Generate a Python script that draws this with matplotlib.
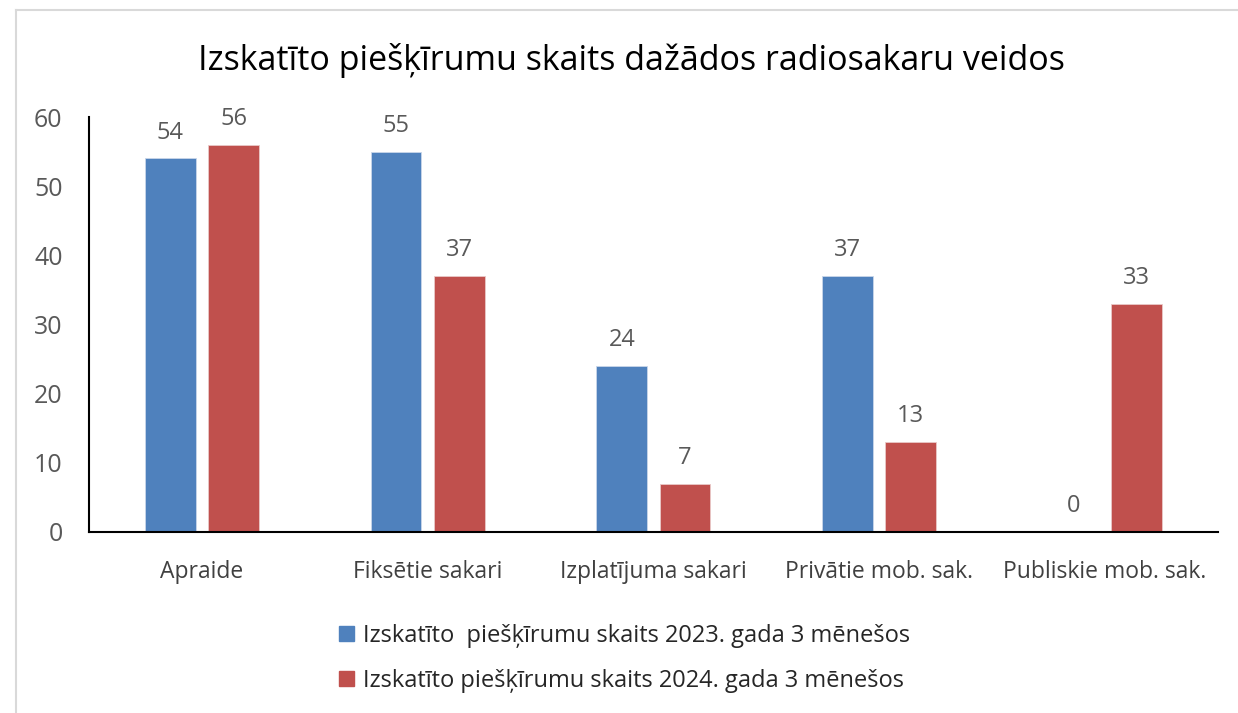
import matplotlib
matplotlib.use("Agg")
import matplotlib.pyplot as plt
import numpy as np
from matplotlib.lines import Line2D
from matplotlib.patches import Patch

categories = ["Apraide", "Fiksētie sakari", "Izplatījuma sakari", "Privātie mob. sak.", "Publiskie mob. sak."]
values_2023 = [54, 55, 24, 37, 0]
values_2024 = [56, 37, 7, 13, 33]
series_names = ["Izskatīto  piešķīrumu skaits 2023. gada 3 mēnešos",
                "Izskatīto piešķīrumu skaits 2024. gada 3 mēnešos"]
title = "Izskatīto piešķīrumu skaits dažādos radiosakaru veidos"

plt.rcParams['font.family'] = ['Open Sans', 'DejaVu Sans']

fig = plt.figure(figsize=(12.38, 7.13), dpi=100)
ax = fig.add_axes([0.0719, 0.2539, 0.9119, 0.582])

x = np.arange(len(categories))
w = 0.225
off = 0.14
blue = "#4F81BD"
red = "#C0504D"
b1 = ax.bar(x - off, values_2023, w, color=blue, edgecolor="#c9d6ea", linewidth=0.6)
b2 = ax.bar(x + off, values_2024, w, color=red, edgecolor="#e9c9c8", linewidth=0.6)

for bars, vals in ((b1, values_2023), (b2, values_2024)):
    for rect, v in zip(bars, vals):
        ax.annotate(str(v), (rect.get_x() + rect.get_width() / 2, v),
                    xytext=(0, 10), textcoords="offset points",
                    ha="center", va="bottom", fontsize=17, color="#595959")

ax.set_xlim(-0.5, len(categories) - 0.5)
ax.set_ylim(0, 60)
ax.set_yticks(range(0, 61, 10))
ax.tick_params(axis="y", length=0, labelsize=18, labelcolor="#595959", pad=19)
ax.tick_params(axis="x", length=0, labelsize=16.5, labelcolor="#404040", pad=20)
ax.set_xticks(x)
ax.set_xticklabels(categories)
for s in ("top", "right"):
    ax.spines[s].set_visible(False)
ax.spines["left"].set_color("black")
ax.spines["bottom"].set_color("black")
ax.spines["left"].set_linewidth(1.5)
ax.spines["bottom"].set_linewidth(1.5)

fig.text(0.51, 0.915, title, ha="center", va="center", fontsize=24.5, color="black")

handles = [Patch(color=blue), Patch(color=red)]
fig.legend(handles, series_names, loc="upper left", bbox_to_anchor=(0.257, 0.155),
           ncol=1, frameon=False, fontsize=17, handlelength=0.6, handleheight=0.6,
           handletextpad=0.4, labelspacing=0.9, labelcolor="#262626")

# light border of the chart area
fig.add_artist(Line2D([16/1238, 1.0], [1 - 10/713, 1 - 10/713], color="#d9d9d9", lw=1.5))
fig.add_artist(Line2D([16/1238, 16/1238], [0, 1 - 10/713], color="#d9d9d9", lw=1.5))

fig.savefig("out.png", dpi=100)
